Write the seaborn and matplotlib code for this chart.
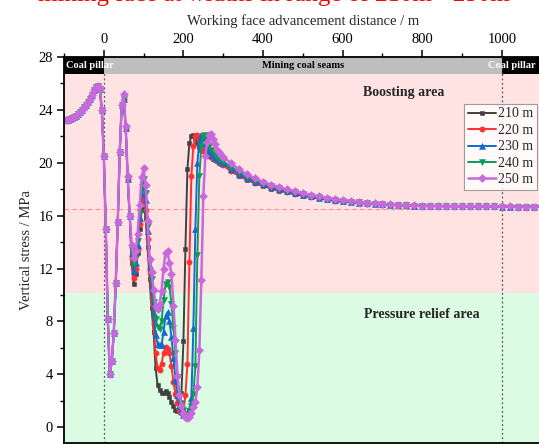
import numpy as np
import pandas as pd
import matplotlib
matplotlib.use("Agg")
import matplotlib.pyplot as plt
from matplotlib.patches import Rectangle
import seaborn as sns

# ---------------- data ----------------
x_pillar = [-100, -95, -90, -85, -80, -75, -70, -65, -60, -55, -50,
            -45, -40, -35, -30, -25, -20, -15, -10, -5, 0]
y_pillar = [23.25, 23.2, 23.25, 23.3, 23.35, 23.45, 23.55, 23.7, 23.85, 24.0, 24.2,
            24.35, 24.6, 24.85, 25.15, 25.5, 25.75, 25.8, 25.6, 24.0, 20.5]

x_mining = [5, 10, 15, 20, 25, 30, 35, 40, 45, 50,
            55, 60, 65, 70, 75, 80, 85, 90, 95, 100,
            105, 110, 115, 120, 125, 130, 135, 140, 145, 150,
            155, 160, 165, 170, 175, 180, 185, 190, 195, 200,
            205, 210, 215, 220, 225, 230, 235, 240, 245, 250,
            255, 260, 265, 270, 275, 280, 285, 290, 295, 300]

y_mining_210 = [15.0, 8.2, 4.0, 5.0, 7.1, 10.9, 15.5, 20.8, 24.4, 24.8,
                22.6, 18.8, 16.0, 12.4, 10.8, 11.6, 13.2, 15.0, 16.4, 16.9,
                15.8, 13.6, 11.2, 9.0, 7.2, 4.5, 3.2, 2.8, 2.55, 2.55,
                2.7, 2.6, 2.3, 1.9, 1.6, 1.3, 1.2, 1.6, 2.6, 6.5,
                13.5, 19.5, 21.5, 22.0, 22.1, 21.9, 21.5, 21.2, 21.0, 20.9,
                20.8, 20.7, 20.5, 20.4, 20.3, 20.2, 20.1, 20.0, 19.9, 19.8]
y_mining_220 = [15.0, 8.2, 4.0, 5.0, 7.1, 10.9, 15.5, 20.8, 24.4, 24.8,
                22.6, 18.8, 16.0, 12.8, 11.3, 12.0, 13.5, 15.4, 16.9, 17.4,
                16.4, 14.2, 11.8, 9.8, 7.8, 5.6, 4.5, 4.3, 4.8, 5.6,
                6.1, 5.9, 5.6, 4.6, 3.4, 2.5, 1.8, 1.3, 1.1, 1.2,
                2.4, 4.8, 12.5, 19.0, 21.3, 22.0, 22.1, 21.7, 21.3, 21.0,
                20.85, 20.7, 20.55, 20.45, 20.35, 20.25, 20.15, 20.05, 19.95, 19.85]
y_mining_230 = [15.0, 8.2, 4.0, 5.0, 7.1, 10.9, 15.5, 20.8, 24.4, 24.8,
                22.6, 18.8, 16.0, 13.2, 11.8, 12.4, 13.8, 15.8, 17.6, 18.3,
                17.2, 14.8, 12.2, 10.6, 8.6, 7.0, 6.3, 6.2, 6.2, 7.2,
                8.4, 8.7, 8.0, 6.8, 5.2, 3.6, 2.4, 1.6, 1.2, 0.95,
                0.9, 1.0, 1.4, 2.2, 7.5, 15.0, 20.0, 21.6, 22.1, 21.9,
                21.4, 21.1, 20.9, 20.7, 20.55, 20.4, 20.3, 20.2, 20.1, 20.0]
y_mining_240 = [15.0, 8.2, 4.0, 5.0, 7.1, 10.9, 15.5, 20.8, 24.4, 24.8,
                22.6, 18.8, 16.0, 13.4, 12.3, 12.8, 14.1, 16.2, 18.2, 18.8,
                17.7, 15.2, 12.5, 11.2, 9.5, 8.2, 7.6, 7.4, 8.0, 9.6,
                10.8, 11.0, 10.6, 9.3, 7.5, 5.6, 3.8, 2.5, 1.8, 1.3,
                1.0, 1.0, 1.2, 1.6, 2.5, 4.6, 13.0, 19.0, 21.3, 22.0,
                22.1, 21.7, 21.3, 21.0, 20.8, 20.6, 20.45, 20.3, 20.2, 20.1]
y_mining_250 = [15.0, 8.2, 4.0, 5.0, 7.1, 10.9, 15.5, 20.8, 24.4, 25.2,
                22.8, 19.0, 16.0, 13.8, 12.8, 13.3, 14.6, 16.8, 18.9, 19.6,
                18.3, 15.6, 12.7, 11.7, 10.4, 9.2, 8.9, 9.3, 10.3, 12.0,
                13.2, 13.3, 12.4, 11.6, 9.2, 6.6, 3.9, 2.4, 1.6, 1.1,
                0.8, 0.72, 0.8, 1.1, 1.5, 1.9, 3.0, 5.8, 11.1, 17.5,
                20.5, 21.6, 22.1, 22.2, 21.8, 21.4, 21.0, 20.8, 20.6, 20.45]

x_far = [320, 340, 360, 380, 400, 420, 440, 460, 480, 500,
         520, 540, 560, 580, 600, 620, 640, 660, 680, 700,
         720, 740, 760, 780, 800, 820, 840, 860, 880, 900,
         920, 940, 960, 980, 1000, 1020, 1040, 1060, 1080, 1100]

y_far_210 = [19.35, 19.0, 18.7, 18.45, 18.25, 18.05, 17.9, 17.75, 17.62, 17.5,
             17.4, 17.3, 17.2, 17.12, 17.05, 17.0, 16.95, 16.9, 16.86, 16.83,
             16.8, 16.78, 16.76, 16.75, 16.74, 16.73, 16.72, 16.72, 16.71, 16.71,
             16.7, 16.7, 16.7, 16.7, 16.69, 16.69, 16.69, 16.68, 16.68, 16.68]
y_far_220 = [19.4, 19.05, 18.75, 18.5, 18.3, 18.1, 17.95, 17.8, 17.66, 17.54,
             17.43, 17.33, 17.23, 17.14, 17.07, 17.01, 16.96, 16.91, 16.87, 16.84,
             16.8, 16.78, 16.76, 16.75, 16.74, 16.73, 16.72, 16.72, 16.71, 16.71,
             16.7, 16.7, 16.7, 16.7, 16.69, 16.69, 16.69, 16.68, 16.68, 16.68]
y_far_230 = [19.55, 19.15, 18.85, 18.58, 18.36, 18.16, 18.0, 17.85, 17.7, 17.58,
             17.46, 17.36, 17.26, 17.17, 17.09, 17.03, 16.98, 16.93, 16.89, 16.85,
             16.81, 16.79, 16.77, 16.75, 16.74, 16.73, 16.72, 16.72, 16.71, 16.71,
             16.7, 16.7, 16.7, 16.7, 16.69, 16.69, 16.69, 16.68, 16.68, 16.68]
y_far_240 = [19.7, 19.3, 18.95, 18.67, 18.44, 18.23, 18.06, 17.9, 17.75, 17.62,
             17.5, 17.39, 17.29, 17.2, 17.12, 17.05, 17.0, 16.95, 16.9, 16.86,
             16.82, 16.8, 16.78, 16.76, 16.75, 16.74, 16.73, 16.72, 16.71, 16.71,
             16.7, 16.7, 16.7, 16.7, 16.69, 16.69, 16.69, 16.68, 16.68, 16.68]
y_far_250 = [19.95, 19.5, 19.12, 18.82, 18.56, 18.34, 18.15, 17.98, 17.83, 17.7,
             17.57, 17.45, 17.35, 17.25, 17.17, 17.1, 17.04, 16.98, 16.93, 16.89,
             16.85, 16.82, 16.8, 16.78, 16.76, 16.75, 16.74, 16.73, 16.72, 16.72,
             16.71, 16.71, 16.7, 16.7, 16.7, 16.7, 16.69, 16.69, 16.69, 16.69]

series_labels = ["210 m", "220 m", "230 m", "240 m", "250 m"]
series_mining = [y_mining_210, y_mining_220, y_mining_230, y_mining_240, y_mining_250]
series_far = [y_far_210, y_far_220, y_far_230, y_far_240, y_far_250]

x_ticks = [0, 200, 400, 600, 800, 1000]
y_ticks = [0, 4, 8, 12, 16, 20, 24, 28]

# ---------------- styling ----------------
colors = ["#404040", "#FF3030", "#1468D0", "#0E9A58", "#C868DC"]
markers = ["s", "o", "^", "v", "D"]
msizes = [3.5, 3.8, 4.2, 4.2, 3.6]
lwidths = [1.4, 1.4, 1.4, 1.4, 1.8]

sns.set_theme(style="ticks")
plt.rcParams["font.family"] = ["Liberation Serif", "DejaVu Serif"]
plt.rcParams["mathtext.fontset"] = "stix"

fig = plt.figure(figsize=(5.39, 4.44), dpi=100)
ax = fig.add_axes([64 / 539, 1 / 444, (541.7 - 64) / 539, 386 / 444])

XMIN, XMAX = -100, 1100
YMIN, YMAX = -1.2, 28

# background zones
ax.axhspan(10.15, YMAX, color="#FFE3E3", zorder=0, lw=0)
ax.axhspan(YMIN, 10.15, color="#DBFCE3", zorder=0, lw=0)

# reference lines
ax.axhline(16.5, color="#FF8A8A", lw=0.8, ls=(0, (4, 3)), zorder=1)
for xv in (0, 1000):
    ax.axvline(xv, color="#555555", lw=0.9, ls=(0, (1.5, 2)), zorder=1)

# top band
band_lo = 26.7
ax.add_patch(Rectangle((-100, band_lo), 100, YMAX - band_lo, color="black", zorder=5, lw=0))
ax.add_patch(Rectangle((0, band_lo), 1000, YMAX - band_lo, color="#BEBEBE", zorder=5, lw=0))
ax.add_patch(Rectangle((1000, band_lo), 200, YMAX - band_lo, color="black", zorder=5, lw=0))
ax.plot([1000, 1000], [band_lo, YMAX], color="#333333", lw=0.9, ls=(0, (1.5, 2)), zorder=6)
yb = (band_lo + YMAX) / 2
ax.text(-95, yb, "Coal pillar", color="white", fontsize=7.5, fontweight="bold",
        va="center", ha="left", zorder=7)
ax.text(500, yb, "Mining coal seams", color="black", fontsize=7.5, fontweight="bold",
        va="center", ha="center", zorder=7)
ax.text(966, yb, "Coal pillar", color="white", fontsize=7.5, fontweight="bold",
        va="center", ha="left", zorder=7)

# curves
for i, lab in enumerate(series_labels):
    xs = x_pillar + x_mining + x_far
    ys = y_pillar + series_mining[i] + series_far[i]
    df = pd.DataFrame({"x": xs, "y": ys})
    sns.lineplot(data=df, x="x", y="y", ax=ax, color=colors[i], marker=markers[i],
                 markersize=msizes[i], markeredgewidth=0.4, markeredgecolor=colors[i],
                 lw=lwidths[i], label=lab, sort=False, estimator=None, zorder=3 + i * 0.1)

# zone labels
ax.text(754, 25.3, "Boosting area", fontsize=10, fontweight="bold", ha="center",
        va="center", zorder=8)
ax.text(798, 8.55, "Pressure relief area", fontsize=10, fontweight="bold", ha="center",
        va="center", zorder=8)

ax.set_xlim(XMIN, XMAX)
ax.set_ylim(YMIN, YMAX)

ax.xaxis.tick_top()
ax.xaxis.set_label_position("top")
ax.set_xticks(x_ticks)
ax.set_xticks([-100, 100, 300, 500, 700, 900], minor=True)
ax.set_yticks(y_ticks)
ax.set_yticks([2, 6, 10, 14, 18, 22, 26], minor=True)
ax.tick_params(axis="both", which="major", direction="out", length=5, width=1.1,
               labelsize=10.5, pad=3, color="black", labelcolor="black")
ax.tick_params(axis="both", which="minor", direction="out", length=3, width=1.0,
               color="black")
ax.tick_params(axis="x", which="both", top=True, bottom=False)
ax.tick_params(axis="y", which="both", left=True, right=False)

ax.set_xlabel("Working face advancement distance / m", fontsize=10.5, labelpad=6)
ax.set_ylabel("Vertical stress / MPa", fontsize=10.5, labelpad=4)

for s in ax.spines.values():
    s.set_linewidth(1.3)
    s.set_color("black")
    s.set_zorder(10)

leg = ax.legend(loc="upper right", bbox_to_anchor=(537 / 539, 1 - 104 / 444),
                bbox_transform=fig.transFigure, frameon=True,
                fontsize=10, handlelength=2.0, handletextpad=0.2, borderpad=0.25,
                labelspacing=0.25, borderaxespad=0, fancybox=False)
leg.get_frame().set_edgecolor("#888888")
leg.get_frame().set_linewidth(0.8)
leg.set_zorder(12)

# cropped red caption at the very top
fig.text(0.508, 0.9985, "mining face at widths in range of 210m - 250m", color="red",
         fontsize=18, ha="center", va="baseline")

fig.savefig("out.png", dpi=100)
